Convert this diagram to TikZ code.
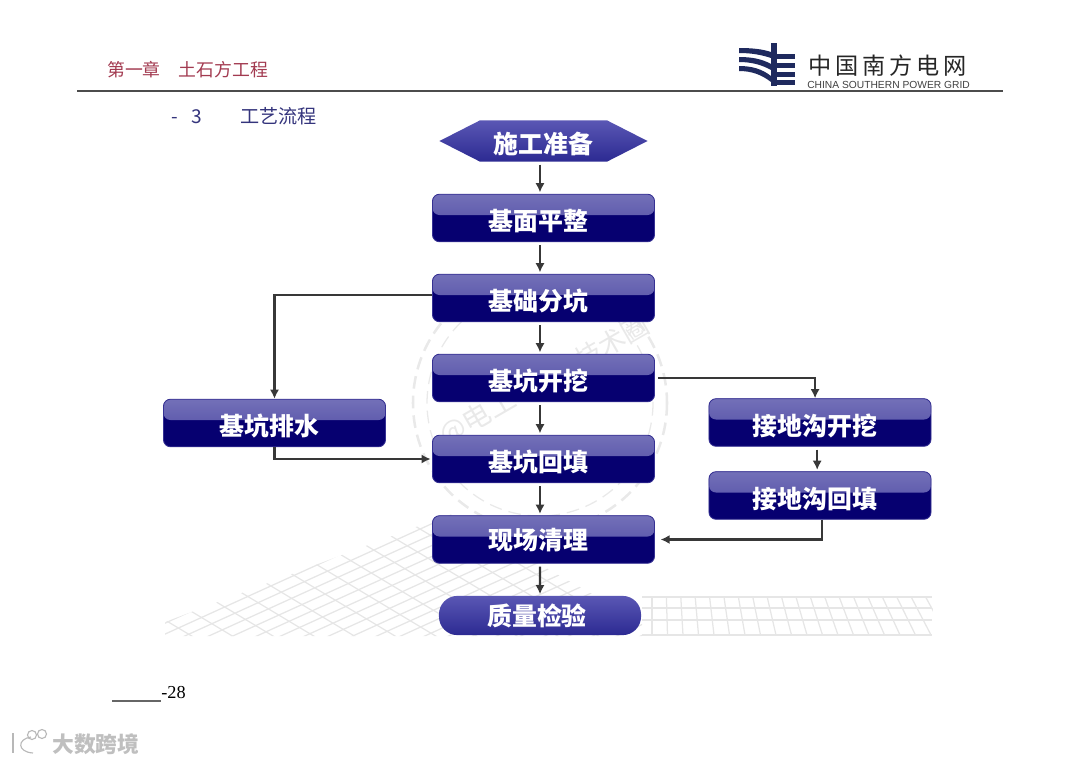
\documentclass[tikz,border=0pt]{standalone}
\usepackage{fontspec}
\setmainfont{Liberation Serif}
\newfontfamily\cjkfont{Noto Sans CJK SC}
\newfontfamily\logofont{Liberation Sans}
\usepackage{xcolor}
\usetikzlibrary{arrows.meta,shapes.symbols}

\definecolor{navy}{HTML}{060070}
\definecolor{glosstop}{HTML}{7370B8}
\definecolor{glossend}{HTML}{4A46A2}
\definecolor{pilltop}{HTML}{5A57B4}
\definecolor{pillend}{HTML}{2C2A92}
\definecolor{titlered}{HTML}{A23A50}
\definecolor{subblue}{HTML}{34347C}
\definecolor{logoblue}{HTML}{1F2A5E}
\definecolor{gridgray}{HTML}{E6E6E6}
\definecolor{stampgray}{HTML}{E9E9E9}

\begin{document}
\begin{tikzpicture}[
  x=0.025cm, y=-0.025cm,
  lettering/.style={text=white, inner sep=0pt, text height=0.73cm, text depth=0.1cm,
    font=\cjkfont\bfseries\fontsize{17.7pt}{17.7pt}\selectfont},
  btn/.style={lettering, draw=glossend!70!navy, line width=0.6pt, rounded corners=5pt, fill=navy,
    minimum width=5.55cm, minimum height=1.19cm,
    execute at end node={\hspace*{0.25cm}},
    path picture={\shade[top color=glosstop, bottom color=glossend] ([yshift=-0.52cm]path picture bounding box.north west) rectangle (path picture bounding box.north east);}},
  hexa/.style={lettering, shape=signal, signal to=west and east, signal pointer angle=54, top color=pilltop, bottom color=pillend,
    minimum width=5.2cm, minimum height=1.03cm},
  pillbox/.style={lettering, rounded corners=0.46cm, top color=pilltop, bottom color=pillend,
    minimum width=5.05cm, minimum height=0.98cm, execute at end node={\hspace*{0.15cm}}},
  arr/.style={-{Latex[length=6.5pt,width=6.5pt]}, line width=1.5pt, draw=black!78},
  arrs/.style={arr, shorten >=1pt, shorten <=2pt},
  floor/.style={gridgray, line width=0.9pt},
  stamp/.style={stampgray, line width=1.8pt, dash pattern=on 9pt off 5pt}
]
\useasboundingbox (0,0) rectangle (1080,764);

% floor
\begin{scope}
\clip (165,622) -- (450,514) -- (642,622) -- (642,636) -- (165,636) -- cycle;
\foreach \i in {-2,...,24} \draw[floor] (165+\i*24,645) -- +(330,-150);
\foreach \i in {-1,...,26} \draw[floor] (165+\i*24,620-\i*10) -- +(200,120);
\end{scope}
\foreach \i in {0,...,19} \draw[floor] (652+\i*14.4,597) -- (652+\i*15.5,635);
\foreach \y in {597,608,620,635} \draw[floor] (642,\y) -- (932,\y);
\fill[white] (933,590) rectangle (975,640);

% stamp
\draw[stamp] (540,403) circle (127);
\draw[stamp, line width=0.9pt] (540,403) circle (113);
\node[stampgray, font=\cjkfont\fontsize{20pt}{20pt}\selectfont, rotate=30] (stampl) at (478,418) {@电工};
\node[stampgray, font=\cjkfont\fontsize{19pt}{19pt}\selectfont, rotate=30] (stampr) at (612,342) {技术圈};

% header
\node[titlered, anchor=west, inner sep=0pt, font=\cjkfont\fontsize{12.7pt}{12.7pt}\selectfont] (chapter) at (107,70) {第一章\hspace{1em}土石方工程};
\draw[black!70, line width=1pt] (77,91) -- (1003,91);
\node[subblue, anchor=west, inner sep=0pt, font=\cjkfont\fontsize{13.6pt}{13.6pt}\selectfont] (section) at (171,116) {-\hspace{0.7em}3\hspace{2em}工艺流程};
\node[anchor=west, inner sep=0pt, black!85, font=\cjkfont\fontsize{16.5pt}{16.5pt}\selectfont] (brand) at (808,66) {中\,国\,南\,方\,电\,网};
\node[anchor=west, inner sep=0pt, black!75, font=\logofont\fontsize{7.3pt}{7.3pt}\selectfont] (brandeng) at (807,85) {CHINA SOUTHERN POWER GRID};

% logo
\fill[logoblue] (771,43) rectangle (777,86);
\foreach \y in {54,63,72,80} \fill[logoblue] (777,\y) rectangle (795,\y+5);
\fill[logoblue] (739,48) .. controls (752,48) and (762,49) .. (771,52) -- (771,58) .. controls (762,55) and (752,53) .. (739,53) -- cycle;
\fill[logoblue] (739,57) .. controls (752,57) and (762,59) .. (771,64) -- (771,70) .. controls (762,65) and (752,62) .. (739,62) -- cycle;
\fill[logoblue] (739,66) .. controls (752,66) and (762,69) .. (771,76) -- (771,82) .. controls (762,75) and (752,71) .. (739,71) -- cycle;

% nodes
\node[hexa] (prep) at (543.5,141) {施工准备};
\node[btn] (level) at (543.5,218) {基面平整};
\node[btn] (divide) at (543.5,298) {基础分坑};
\node[btn] (dig) at (543.5,378) {基坑开挖};
\node[btn] (fill) at (543.5,459) {基坑回填};
\node[btn, text height=0.6cm] (clean) at (543.5,539.5) {现场清理};
\node[pillbox, text height=0.6cm] (check) at (540,615.5) {质量检验};
\node[btn] (drain) at (274.5,423) {基坑排水};
\node[btn] (ditch) at (820,422.5) {接地沟开挖};
\node[btn] (backfill) at (820,495.5) {接地沟回填};

% arrows
\foreach \a/\b in {prep/level,level/divide,divide/dig,dig/fill,fill/clean}
  \draw[arrs] ([xshift=-2.5pt]\a.south) -- ([xshift=-2.5pt]\b.north);
\draw[arrs] ([xshift=-2.5pt]clean.south) -- (check.north);
\draw[arr] ([yshift=0.075cm]divide.west) -| (drain.north);
\draw[arr] (drain.south) |- ([xshift=-1pt]fill.west);
\draw[arr] ([xshift=2pt]dig.east) -| ([xshift=-3.5pt]ditch.north);
\draw[arrs] ([xshift=-2pt]ditch.south) -- ([xshift=-2pt]backfill.north);
\draw[arr] ([xshift=1.5pt]backfill.south) |- ([xshift=4pt]clean.east);

% footer
\draw[black!60, line width=0.8pt] (112,701) -- (161,701);
\node[anchor=west, inner sep=0pt, font=\fontsize{13pt}{13pt}\selectfont] (page) at (161,693) {-28};

% mark
\begin{scope}[draw=black!28, line width=0.8pt, double=white, double distance=1.2pt]
\draw (13,733) -- (13,753);
\draw (31,737) .. controls (17,739) and (17,752) .. (33,753);
\draw (32,735) circle (4.5);
\draw (42,734) circle (4.5);
\end{scope}
\node[anchor=west, inner sep=0pt, text=black!25, font=\cjkfont\bfseries\fontsize{15.5pt}{15.5pt}\selectfont] (markname) at (52,744) {大数跨境};
\end{tikzpicture}
\end{document}
